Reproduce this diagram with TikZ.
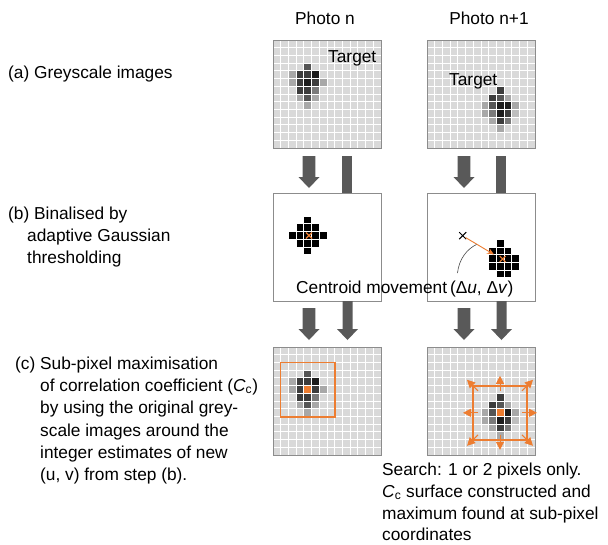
\documentclass[tikz,border=0pt]{standalone}
\usepackage{fontspec}
\setmainfont{Liberation Sans}
\usetikzlibrary{arrows.meta,calc}
\definecolor{cellgrey}{HTML}{D9D9D9}
\definecolor{framegrey}{HTML}{8C8C8C}
\definecolor{blockgrey}{HTML}{595959}
\definecolor{accent}{HTML}{ED7D31}
\definecolor{gA}{HTML}{1C1C1C}
\definecolor{gB}{HTML}{3C3C3C}
\definecolor{gC}{HTML}{555555}
\definecolor{gD}{HTML}{7A7A7A}
\definecolor{gE}{HTML}{A8A8A8}
\definecolor{gF}{HTML}{BEBEBE}
\tikzset{
  label/.style={font=\fontsize{17.3}{22}\selectfont, inner sep=0pt, anchor=base west},
  panelframe/.style={draw=framegrey, line width=0.8pt},
  gridline/.style={draw=white, line width=0.9pt},
  blockarrow/.style={fill=blockgrey},
  accentline/.style={draw=accent, line width=1.4pt},
  pushtip/.style={draw=accent, line width=1pt, -{Triangle[length=8pt,width=8pt]}},
}
\def\cellsz{7.714}
% greyscale photo: background, shaded pixels, white pixel grid, frame
\newcommand\photopanel[4]{%
  \fill[cellgrey] (#1,#2) rectangle ++(108,108);
  \foreach \c/\r/\s in {#3} {\fill[\s] ({#1+\c*\cellsz},{#2+\r*\cellsz}) rectangle ++(\cellsz,\cellsz);}
  #4
  \foreach \i in {1,...,13} {
    \draw[gridline] ({#1+\i*\cellsz},#2) -- ++(0,108);
    \draw[gridline] (#1,{#2+\i*\cellsz}) -- ++(108,0);
  }
  \draw[panelframe] (#1,#2) rectangle ++(108,108);
}
% binarised photo: white background with black pixels
\newcommand\binpanel[3]{%
  \fill[white] (#1,#2) rectangle ++(108,108);
  \foreach \c/\r in {#3} {\filldraw[fill=black, draw=white, line width=0.8pt] ({#1+\c*\cellsz},{#2+\r*\cellsz}) rectangle ++(\cellsz,\cellsz);}
  \draw[panelframe] (#1,#2) rectangle ++(108,108);
}
% down arrow (shaft + head) and plain bar
\newcommand\blockdown[4]{% centre x, top y, tip y, shaft half width
  \fill[blockarrow] ({#1-#4},#2) -- ({#1+#4},#2) -- ({#1+#4},{#3-11}) -- ({#1+10.5},{#3-11}) -- (#1,#3) -- ({#1-10.5},{#3-11}) -- ({#1-#4},{#3-11}) -- cycle;
}
\newcommand\plainbar[3]{\fill[blockarrow] ({#1-5},#2) rectangle ({#1+5},#3);}
\newcommand\xmarkat[4]{\draw[#4] ({#1-#3},{#2-#3}) -- ({#1+#3},{#2+#3}) ({#1-#3},{#2+#3}) -- ({#1+#3},{#2-#3});}

\begin{document}
\begin{tikzpicture}[x=1pt,y=-1pt]
\useasboundingbox (0,0) rectangle (608,544);

% column headings
\node[label, anchor=base] (hn) at (325,24) {Photo n};
\node[label, anchor=base] (hn1) at (489,24) {Photo n+1};

% row captions
\node[label] (ra) at (8,78) {(a) Greyscale images};
\node[label] (rb1) at (8,219) {(b) Binalised by};
\node[label] (rb2) at (27,241) {adaptive Gaussian};
\node[label] (rb3) at (27,263) {thresholding};
\node[label] (rc1) at (15,369) {(c) Sub-pixel maximisation};
\node[label] (rc2) at (40,391) {of correlation coefficient (\textit{C}\textsubscript{c})};
\node[label] (rc3) at (40,413) {by using the original grey-};
\node[label] (rc4) at (40,436) {scale images around the};
\node[label] (rc5) at (40,458) {integer estimates of new};
\node[label] (rc6) at (40,480) {(u, v) from step (b).};

% (a) greyscale photos
\photopanel{273}{40}{4/3/gC, 2/4/gE, 3/4/gB, 4/4/gB, 5/4/gA, 2/5/gE, 3/5/gB, 4/5/gA, 5/5/gB, 6/5/gE, 3/6/gB, 4/6/gB, 5/6/gD, 3/7/gE, 4/7/gC, 5/7/gE, 4/8/gE}{}
\photopanel{427}{40}{9/6/gB, 8/7/gB, 9/7/gC, 10/7/gE, 7/8/gE, 8/8/gC, 9/8/gA, 10/8/gA, 11/8/gE, 7/9/gE, 8/9/gD, 9/9/gA, 10/9/gB, 11/9/gF, 8/10/gE, 9/10/gB, 10/10/gD, 9/11/gE}{}
\node[label] (t1) at (328,62) {Target};
\node[label] (t2) at (449,85) {Target};

% arrows (a) -> (b)
\blockdown{309}{156}{188}{6.3}
\plainbar{347}{156}{193}
\blockdown{464}{156}{188}{6.3}
\plainbar{501}{156}{193}

% (b) binarised photos
\binpanel{273}{193}{4/3, 3/4, 4/4, 5/4, 2/5, 3/5, 4/5, 5/5, 6/5, 3/6, 4/6, 5/6, 4/7}
\binpanel{427}{193}{9/6, 8/7, 9/7, 10/7, 8/8, 9/8, 10/8, 11/8, 8/9, 9/9, 10/9, 11/9, 9/10, 10/10}
\xmarkat{309}{235.5}{3}{draw=accent, line width=1.1pt}
\xmarkat{462.7}{235.7}{3.5}{draw=black, line width=1pt}
\xmarkat{502.7}{259}{3}{draw=accent, line width=1.1pt}
\coordinate (oldc) at (465.5,237.5);
\coordinate (newc) at (494,254.5);
\draw[draw=accent, line width=0.9pt, -{Stealth[length=7pt,width=6pt]}] (oldc) -- (newc);
\node[label] (cm) at (296,293) {Centroid movement\,(Δ\textit{u}, Δ\textit{v})};
\coordinate (leadfoot) at (457.5,273);
\coordinate (leadtop) at (476.5,244.5);
\draw[draw=black!70, line width=0.6pt] (leadfoot) .. controls (459,259) and (467,249) .. (leadtop);

% arrows (b) -> (c)
\blockdown{309}{308}{340}{6.3}
\blockdown{347.5}{301}{340}{5}
\blockdown{464}{308}{340}{6.3}
\blockdown{501.5}{301}{340}{5}

% (c) sub-pixel search
\photopanel{273}{347}{4/3/gC, 2/4/gE, 3/4/gB, 4/4/gB, 5/4/gA, 2/5/gE, 3/5/gB, 4/5/gA, 5/5/gB, 6/5/gE, 3/6/gB, 4/6/gB, 5/6/gD, 3/7/gE, 4/7/gC, 5/7/gE, 4/8/gE}{\fill[accent] ({273+4*\cellsz},{347+5*\cellsz}) rectangle ++(\cellsz,\cellsz);}
\draw[accentline] (280.7,362.7) rectangle (335,417);
\photopanel{427}{347}{9/6/gB, 8/7/gB, 9/7/gC, 10/7/gE, 7/8/gE, 8/8/gC, 9/8/gA, 10/8/gA, 11/8/gE, 7/9/gE, 8/9/gD, 9/9/gA, 10/9/gB, 11/9/gF, 8/10/gE, 9/10/gB, 10/10/gD, 9/11/gE}{\fill[accent] ({427+9*\cellsz},{347+8*\cellsz}) rectangle ++(\cellsz,\cellsz);}
\coordinate (sc) at (500,412.8);
\draw[accentline] ($(sc)+(-27,-27)$) rectangle ($(sc)+(27,27)$);
\foreach \dx/\dy in {0/-1, 0/1, -1/0, 1/0} {
  \draw[pushtip] ($(sc)+(22*\dx,22*\dy)$) -- ($(sc)+(37*\dx,37*\dy)$);
}
\foreach \dx/\dy in {-1/-1, 1/-1, -1/1, 1/1} {
  \draw[pushtip] ($(sc)+(22*\dx,22*\dy)$) -- ($(sc)+(33*\dx,33*\dy)$);
}

\node[label] (s1) at (382,475) {Search: 1 or 2 pixels only.};
\node[label] (s2) at (382,497) {\textit{C}\textsubscript{c} surface constructed and};
\node[label] (s3) at (382,519) {maximum found at sub-pixel};
\node[label] (s4) at (382,540) {coordinates};
\end{tikzpicture}
\end{document}
